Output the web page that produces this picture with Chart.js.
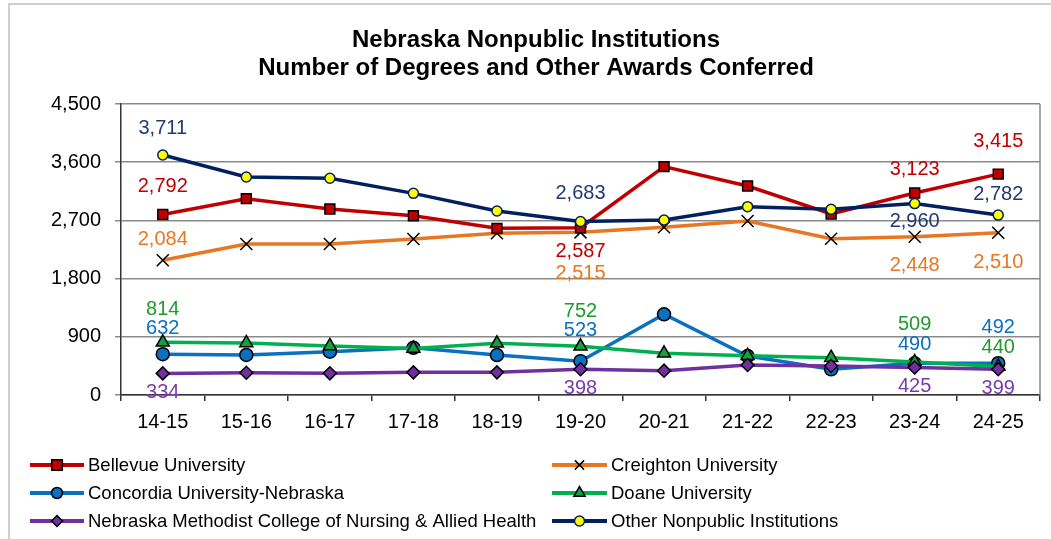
<!DOCTYPE html>
<html lang="en">
<head>
<meta charset="UTF-8">
<title>Nebraska Nonpublic Institutions - Degrees Conferred</title>
<script src="https://cdn.jsdelivr.net/npm/chart.js"></script>
<style>
  body { margin: 0; background: #fff; }
</style>
</head>
<body>
<canvas id="degreesChart" width="1051" height="539"></canvas>
<script>
const years = ['14-15', '15-16', '16-17', '17-18', '18-19', '19-20', '20-21', '21-22', '22-23', '23-24', '24-25'];
const yTicks = [0, 900, 1800, 2700, 3600, 4500];

const bellevue  = [2792, 3036, 2876, 2773, 2577, 2587, 3531, 3232, 2799, 3123, 3415];
const creighton = [2084, 2335, 2335, 2412, 2500, 2515, 2593, 2690, 2417, 2448, 2510];
const concordia = [632, 619, 670, 730, 618, 523, 1248, 603, 397, 490, 492];
const doane     = [814, 805, 758, 720, 799, 752, 645, 608, 577, 509, 440];
const methodist = [334, 345, 335, 350, 350, 398, 376, 464, 448, 425, 399];
const other     = [3711, 3371, 3351, 3118, 2845, 2683, 2706, 2912, 2871, 2960, 2782];

const FONT = '"Liberation Sans", Arial, sans-serif';

// where the value labels sit, relative to their point: [index, dx, dy]
const spots = {
  bellevue:  [[0, 0, -29], [5, 0, 23], [9, 0, -25], [10, 0, -34]],
  creighton: [[0, 0, -22], [5, 0, 40], [9, 0, 28], [10, 0, 29]],
  concordia: [[0, 0, -27], [5, 0, -32], [9, 0, -20], [10, 0, -37]],
  doane:     [[0, 0, -34], [5, 0, -36], [9, 0, -39], [10, 0, -20]],
  methodist: [[0, 0, 18], [5, 0, 18], [9, 0, 18], [10, 0, 18]],
  other:     [[0, 0, -28], [5, 0, -29], [9, 0, 17], [10, 0, -22]]
};

const datasets = [
  {
    label: 'Bellevue University', data: bellevue, order: 3,
    borderColor: '#C00000', pointBackgroundColor: '#C00000', pointBorderColor: '#000',
    pointStyle: 'rect', pointRadius: 7, legendRadius: 7.5,
    labelColor: '#C00000', labelSpots: spots.bellevue, legendCol: 0, legendRow: 0
  },
  {
    label: 'Creighton University', data: creighton, order: 4,
    borderColor: '#E87722', pointBackgroundColor: '#000', pointBorderColor: '#000',
    pointStyle: 'crossRot', pointRadius: 8.5, legendRadius: 6.5,
    labelColor: '#E87722', labelSpots: spots.creighton, legendCol: 1, legendRow: 0
  },
  {
    label: 'Concordia University-Nebraska', data: concordia, order: 6,
    borderColor: '#0A70C0', pointBackgroundColor: '#0A70C0', pointBorderColor: '#000',
    pointStyle: 'circle', pointRadius: 6.5, legendRadius: 5.5,
    labelColor: '#0A70C0', labelSpots: spots.concordia, legendCol: 0, legendRow: 1
  },
  {
    label: 'Doane University', data: doane, order: 5,
    borderColor: '#00B050', pointBackgroundColor: '#14A03C', pointBorderColor: '#000',
    pointStyle: 'triangle', pointRadius: 7.5, legendRadius: 6.5,
    labelColor: '#1E9A2E', labelSpots: spots.doane, legendCol: 1, legendRow: 1
  },
  {
    label: 'Nebraska Methodist College of Nursing & Allied Health', data: methodist, order: 2,
    borderColor: '#7030A0', pointBackgroundColor: '#7030A0', pointBorderColor: '#000',
    pointStyle: 'rectRot', pointRadius: 6.5, legendRadius: 5.5,
    labelColor: '#7A3AAA', labelSpots: spots.methodist, legendCol: 0, legendRow: 2
  },
  {
    label: 'Other Nonpublic Institutions', data: other, order: 1,
    borderColor: '#002060', pointBackgroundColor: '#FFFF00', pointBorderColor: '#002060',
    pointStyle: 'circle', pointRadius: 5, legendRadius: 5,
    labelColor: '#1F3877', labelSpots: spots.other, legendCol: 1, legendRow: 2
  }
];

datasets.forEach(ds => {
  ds.borderWidth = 3.5;
  ds.tension = 0;
  ds.pointBorderWidth = 1.5;
});

const titlePlugin = {
  id: 'twoLineTitle',
  afterDraw(chart) {
    const ctx = chart.ctx;
    ctx.save();
    ctx.fillStyle = '#000';
    ctx.font = 'bold 24px ' + FONT;
    ctx.textAlign = 'center';
    ctx.textBaseline = 'alphabetic';
    ctx.fillText('Nebraska Nonpublic Institutions', 536, 47);
    ctx.fillText('Number of Degrees and Other Awards Conferred', 536, 75);
    ctx.restore();
  }
};

const framePlugin = {
  id: 'frame',
  beforeDraw(chart) {
    const ctx = chart.ctx;
    ctx.save();
    ctx.fillStyle = '#fff';
    ctx.fillRect(0, 0, chart.width, chart.height);
    ctx.strokeStyle = '#cfcfcf';
    ctx.lineWidth = 2;
    ctx.strokeRect(9, 4, chart.width + 20, chart.height + 20);
    ctx.restore();
  },
  afterDraw(chart) {
    const a = chart.chartArea;
    const ctx = chart.ctx;
    ctx.save();
    ctx.strokeStyle = '#8a8a8a';
    ctx.lineWidth = 1.5;
    ctx.beginPath();
    ctx.moveTo(a.right, a.top);
    ctx.lineTo(a.right, a.bottom);
    ctx.stroke();
    ctx.restore();
  }
};

const labelPlugin = {
  id: 'valueLabels',
  afterDatasetsDraw(chart) {
    const ctx = chart.ctx;
    ctx.save();
    ctx.font = '20px ' + FONT;
    ctx.textAlign = 'center';
    ctx.textBaseline = 'middle';
    chart.data.datasets.forEach((ds, di) => {
      const meta = chart.getDatasetMeta(di);
      ds.labelSpots.forEach(([i, dx, dy]) => {
        const pt = meta.data[i];
        ctx.fillStyle = ds.labelColor;
        ctx.fillText(ds.data[i].toLocaleString('en-US'), pt.x + dx, pt.y + dy + 1);
      });
    });
    ctx.restore();
  }
};

function drawMarker(ctx, ds, x, y, radius) {
  ctx.fillStyle = ds.pointBackgroundColor;
  ctx.strokeStyle = ds.pointBorderColor;
  ctx.lineWidth = ds.pointBorderWidth;
  Chart.helpers.drawPoint(ctx, { pointStyle: ds.pointStyle, radius: radius, rotation: 0, borderWidth: ds.pointBorderWidth }, x, y);
}

const legendPlugin = {
  id: 'bottomLegend',
  afterDraw(chart) {
    const ctx = chart.ctx;
    const cols = [{ x1: 30, x2: 84, text: 88 }, { x1: 552, x2: 607, text: 611 }];
    const rows = [465, 493, 521];
    ctx.save();
    ctx.font = '18.5px ' + FONT;
    ctx.textBaseline = 'middle';
    ctx.textAlign = 'left';
    chart.data.datasets.forEach(ds => {
      const c = cols[ds.legendCol];
      const y = rows[ds.legendRow];
      ctx.strokeStyle = ds.borderColor;
      ctx.lineWidth = 4;
      ctx.beginPath();
      ctx.moveTo(c.x1, y);
      ctx.lineTo(c.x2, y);
      ctx.stroke();
      drawMarker(ctx, ds, (c.x1 + c.x2) / 2, y, ds.legendRadius);
      ctx.fillStyle = '#000';
      ctx.fillText(ds.label, c.text, y + 1);
    });
    ctx.restore();
  }
};

new Chart(document.getElementById('degreesChart'), {
  type: 'line',
  data: { labels: years, datasets: datasets },
  options: {
    responsive: false,
    animation: false,
    layout: { padding: { top: 104, left: 0, right: 11, bottom: 104 } },
    plugins: {
      legend: { display: false },
      title: { display: false },
      tooltip: { enabled: false }
    },
    scales: {
      x: {
        offset: true,
        grid: { display: true, drawOnChartArea: false, drawTicks: true, tickLength: 6, color: '#333', lineWidth: 1.5, offset: true },
        border: { display: true, color: '#333', width: 1.5 },
        ticks: { color: '#000', font: { size: 20, family: FONT }, padding: 9, maxRotation: 0, autoSkip: false },
        afterFit(scale) { scale.height = 40; }
      },
      y: {
        min: 0,
        max: 4500,
        afterBuildTicks(scale) { scale.ticks = yTicks.map(v => ({ value: v })); },
        grid: { color: '#8a8a8a', lineWidth: 1.5, tickLength: 6 },
        border: { display: true, color: '#333', width: 1.5 },
        ticks: {
          color: '#000', font: { size: 20, family: FONT }, padding: 14,
          callback: v => v.toLocaleString('en-US')
        },
        afterFit(scale) { scale.width = 121; }
      }
    }
  },
  plugins: [framePlugin, labelPlugin, titlePlugin, legendPlugin]
});
</script>
</body>
</html>
